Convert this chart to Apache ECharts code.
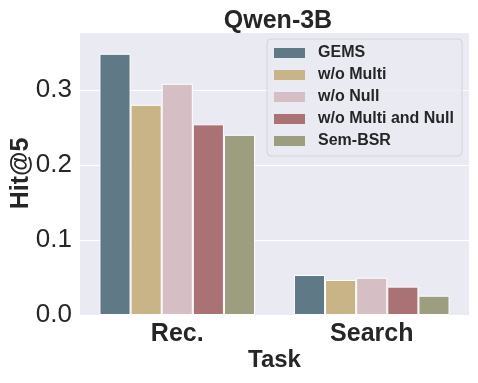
<!DOCTYPE html>
<html><head><meta charset="utf-8">
<script src="https://cdn.jsdelivr.net/npm/echarts@6/dist/echarts.min.js"></script>
<style>html,body{margin:0;padding:0;background:#fff}#c{width:478px;height:383px}</style>
</head><body><div id="c"></div>
<script>
const categories = ['Rec.', 'Search'];
const seriesNames = ['GEMS', 'w/o Multi', 'w/o Null', 'w/o Multi and Null', 'Sem-BSR'];
const gems = [0.348, 0.0533];
const woMulti = [0.280, 0.0467];
const woNull = [0.308, 0.0497];
const woMultiNull = [0.254, 0.0378];
const semBSR = [0.240, 0.0257];
const yTicks = [0.0, 0.1, 0.2, 0.3];
const colors = ['#5F7A86', '#C9B487', '#D5BEC4', '#AB7276', '#9D9E80'];
const values = [gems, woMulti, woNull, woMultiNull, semBSR];
const font = 'Liberation Sans, Arial, sans-serif';
const chart = echarts.init(document.getElementById('c'));
chart.setOption({
  animation: false,
  title: { text: 'Qwen-3B', left: 273, textAlign: 'center', top: 4,
    textStyle: { fontFamily: font, fontSize: 25, fontWeight: 'bold', color: '#262626' } },
  grid: { left: 80, right: 9, top: 32, bottom: 68, show: true, backgroundColor: '#EAEAF2', borderWidth: 0,
    containLabel: false, outerBoundsMode: 'none' },
  legend: {
    right: 16, top: 39, orient: 'vertical', align: 'left',
    icon: 'rect',
    itemWidth: 31, itemHeight: 10, itemGap: 4,
    padding: [5, 8, 6, 7],
    backgroundColor: 'rgba(234,234,242,0.8)', borderColor: '#d4d4d8', borderWidth: 1, borderRadius: 4,
    textStyle: { fontFamily: font, fontSize: 16, fontWeight: 'bold', color: '#262626', lineHeight: 18, padding: [0, 0, 0, 8] },
    data: seriesNames.map(n => ({ name: n, itemStyle: { borderWidth: 0 } }))
  },
  xAxis: {
    type: 'category', data: categories,
    name: 'Task', nameLocation: 'middle', nameGap: 33, nameMoveOverlap: false,
    nameTextStyle: { fontFamily: font, fontSize: 24, fontWeight: 'bold', color: '#262626' },
    axisLine: { show: false }, axisTick: { show: false },
    axisLabel: { margin: 7, fontFamily: font, fontSize: 25, fontWeight: 'bold', color: '#262626' },
    splitLine: { show: false }
  },
  yAxis: {
    type: 'value', min: 0, max: 0.377, interval: 0.1,
    name: 'Hit@5', nameLocation: 'middle', nameGap: 46, nameMoveOverlap: false,
    nameTextStyle: { fontFamily: font, fontSize: 25, fontWeight: 'bold', color: '#262626' },
    axisLine: { show: false }, axisTick: { show: false },
    axisLabel: { margin: 8, showMaxLabel: false, fontFamily: font, fontSize: 26, color: '#262626',
      formatter: v => { const t = yTicks.find(x => Math.abs(x - v) < 1e-6); return t === undefined ? '' : t.toFixed(1); } },
    splitLine: { lineStyle: { color: '#ffffff', width: 1 } }
  },
  series: seriesNames.map((n, i) => ({
    name: n, type: 'bar', data: values[i],
    barGap: '0%', barCategoryGap: '20%',
    itemStyle: { color: colors[i], borderColor: '#ffffff', borderWidth: 1 }
  }))
});
</script></body></html>
